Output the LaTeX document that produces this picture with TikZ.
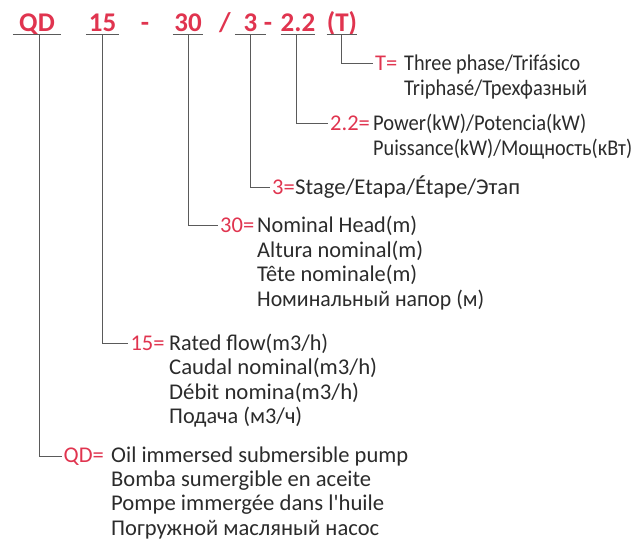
\documentclass[tikz,border=0pt]{standalone}
\usepackage{graphicx}
\usepackage{fontspec}
\setmainfont{Carlito}[Ligatures=TeXOff]
\definecolor{keyred}{HTML}{E0344F}
\definecolor{txt}{HTML}{2B2B2B}
\definecolor{lgray}{HTML}{5A5A5A}
\newcommand\fitw[2]{\resizebox{#1pt}{\height}{#2}}
\begin{document}
\begin{tikzpicture}[x=1pt,y=-1pt,
  hdr/.style={anchor=base,inner sep=0pt,text=keyred,font=\fontsize{27}{27}\selectfont\bfseries},
  key/.style={anchor=base west,inner xsep=2pt,inner ysep=0pt,text=keyred,font=\fontsize{22.5}{22.5}\selectfont},
  body/.style={anchor=base west,inner sep=0pt,text=txt,font=\fontsize{22.5}{22.5}\selectfont},
  ln/.style={draw=lgray,line width=0.9pt}]
\useasboundingbox (0,0) rectangle (636,542);
% header
\node[hdr,minimum width=48pt] (hQD) at (37,31) {QD};
\node[hdr,minimum width=33pt] (h15) at (102.5,31) {15};
\node[hdr] (d1) at (145,31) {-};
\node[hdr,minimum width=30pt] (h30) at (188,31) {30};
\node[hdr] (sl) at (225,31) {/};
\node[hdr,minimum width=31pt] (h3) at (250.5,31) {3};
\node[hdr] (d2) at (268,31) {-};
\node[hdr,minimum width=30pt] (h22) at (298,31) {2.2};
\node[hdr,minimum width=30pt] (hT) at (342,31) {(T)};
\coordinate (uhQD) at (39,34.5);
\coordinate (uh15) at (102.3,34.5);
\coordinate (uh30) at (188.3,34.5);
\coordinate (uh3) at (250.5,34.5);
\coordinate (uh22) at (296.7,34.5);
\coordinate (uhT) at (341,34.5);
\foreach \n in {hQD,h15,h30,h3,h22,hT}{
  \draw[ln] ([yshift=-3.5pt]\n.base west) -- ([yshift=-3.5pt]\n.base east);
}
% T
\node[key] (kT) at (373,70.8) {T=};
\node[body] (tT1) at (404,70.8) {\fitw{176}{Three phase/Trifásico}};
\node[body] (tT2) at ([yshift=-25pt]tT1.base west) {\fitw{183}{Triphasé/Трехфазный}};
% 2.2
\node[key] (k22) at (328,130.8) {2.2=};
\node[body] (t221) at (373,130.8) {\fitw{213}{Power(kW)/Potencia(kW)}};
\node[body] (t222) at ([yshift=-25pt]t221.base west) {\fitw{259}{Puissance(kW)/Мощность(кВт)}};
% 3
\node[key] (k3) at (270,194.8) {3=};
\node[body] (t31) at (295,194.8) {\fitw{225}{Stage/Etapa/Étape/Этап}};
% 30
\node[key] (k30) at (218,232.5) {30=};
\node[body] (t301) at (257,232.5) {\fitw{160}{Nominal Head(m)}};
\node[body] (t302) at ([yshift=-24.5pt]t301.base west) {\fitw{166}{Altura nominal(m)}};
\node[body] (t303) at ([yshift=-24.5pt]t302.base west) {\fitw{160}{Tête nominale(m)}};
\node[body] (t304) at ([yshift=-24.5pt]t303.base west) {\fitw{227}{Номинальный напор (м)}};
% 15
\node[key] (k15) at (128.3,350.2) {15=};
\node[body] (t151) at (169,350.2) {\fitw{159}{Rated flow(m3/h)}};
\node[body] (t152) at ([yshift=-24.5pt]t151.base west) {\fitw{208}{Caudal nominal(m3/h)}};
\node[body] (t153) at ([yshift=-24.5pt]t152.base west) {\fitw{190}{Débit nomina(m3/h)}};
\node[body] (t154) at ([yshift=-24.5pt]t153.base west) {\fitw{133}{Подача (м3/ч)}};
% QD
\node[key] (kQD) at (61.5,462.2) {QD=};
\node[body] (tQD1) at (111,462.2) {\fitw{297}{Oil immersed submersible pump}};
\node[body] (tQD2) at ([yshift=-24.3pt]tQD1.base west) {\fitw{260}{Bomba sumergible en aceite}};
\node[body] (tQD3) at ([yshift=-24.3pt]tQD2.base west) {\fitw{273}{Pompe immergée dans l'huile}};
\node[body] (tQD4) at ([yshift=-24.3pt]tQD3.base west) {\fitw{268}{Погружной масляный насос}};
% connectors
\draw[ln] (uhT) |- (kT.west);
\draw[ln] (uh22) |- (k22.west);
\draw[ln] (uh3) |- (k3.west);
\draw[ln] (uh30) |- (k30.west);
\draw[ln] (uh15) |- (k15.west);
\draw[ln] (uhQD) |- (kQD.west);
\end{tikzpicture}
\end{document}
